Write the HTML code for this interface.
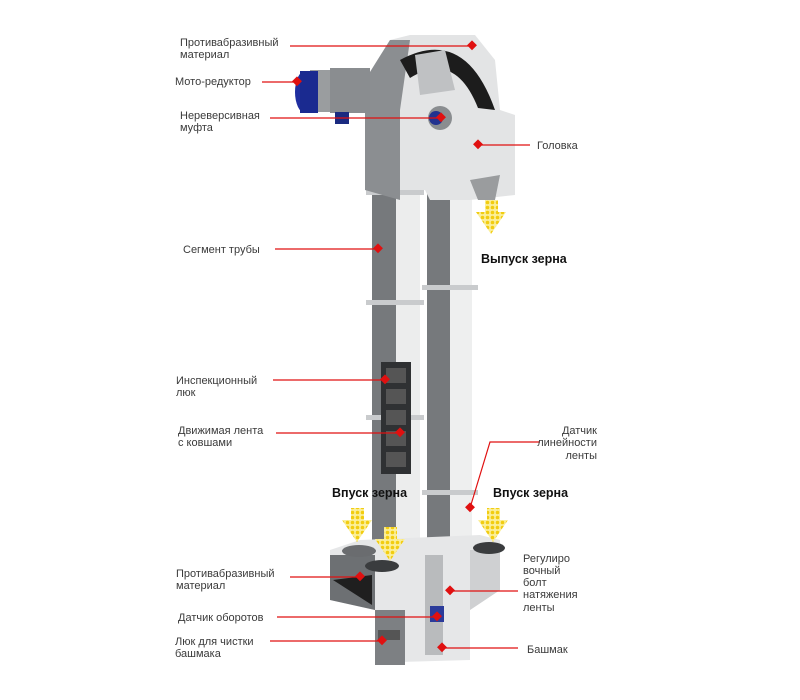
<!DOCTYPE html>
<html><head><meta charset="utf-8"><style>
html,body{margin:0;padding:0;background:#fff;}
svg{display:block}
text{font-family:"Liberation Sans",sans-serif;font-size:11px;fill:#3a3a3a}
.b{font-weight:bold;font-size:12.5px;fill:#111}
</style></head><body>
<svg width="800" height="700" viewBox="0 0 800 700" xmlns="http://www.w3.org/2000/svg">
<defs>
<pattern id="g" width="5" height="5" patternUnits="userSpaceOnUse"><rect width="5" height="5" fill="#fbef9a"/><circle cx="2.5" cy="2.5" r="1.8" fill="#f2cc10"/></pattern>
</defs>
<!-- Tubes -->
<rect x="372" y="185" width="24" height="360" fill="#76797c"/>
<rect x="396" y="185" width="24" height="360" fill="#eceded"/>
<rect x="427" y="180" width="23" height="360" fill="#76797c"/>
<rect x="450" y="180" width="22" height="360" fill="#eeefef"/>
<g fill="#c9cbcd">
<rect x="366" y="190" width="58" height="5"/><rect x="366" y="300" width="58" height="5"/><rect x="366" y="415" width="58" height="5"/>
<rect x="422" y="285" width="56" height="5"/><rect x="422" y="490" width="56" height="5"/><rect x="366" y="545" width="58" height="5"/>
</g>
<rect x="381" y="362" width="30" height="112" fill="#2f3133"/>
<g fill="#555">
<rect x="386" y="368" width="20" height="15"/><rect x="386" y="389" width="20" height="15"/><rect x="386" y="410" width="20" height="15"/><rect x="386" y="431" width="20" height="15"/><rect x="386" y="452" width="20" height="15"/>
</g>
<!-- Head -->
<polygon points="365,190 365,80 390,40 410,35 475,35 495,60 500,110 515,115 515,195 470,200 430,200 425,190" fill="#e3e4e5"/>
<polygon points="365,190 365,80 390,40 410,40 400,110 400,200" fill="#8b8e91"/>
<path d="M400,60 Q465,25 495,110 L478,108 Q455,50 410,78 Z" fill="#1c1c1c"/>
<polygon points="415,55 445,50 455,90 420,95" fill="#bfc1c3"/>
<circle cx="440" cy="118" r="12" fill="#8a8d90"/><circle cx="436" cy="118" r="7" fill="#22328f"/>
<polygon points="470,180 500,175 495,200 478,200" fill="#9a9c9e"/>
<!-- Motor -->
<rect x="310" y="70" width="60" height="42" fill="#9a9d9f"/>
<rect x="330" y="68" width="40" height="45" fill="#8a8d90"/>
<ellipse cx="305" cy="92" rx="10" ry="21" fill="#1f2ea0"/>
<rect x="300" y="71" width="18" height="42" fill="#1a2a90"/>
<rect x="335" y="112" width="14" height="12" fill="#1a2a80"/>
<!-- Boot -->
<polygon points="330,550 360,540 480,535 500,540 500,590 470,610 470,660 400,662 385,665 375,665 375,610 330,600" fill="#e6e7e8"/>
<polygon points="330,555 375,555 375,610 330,600" fill="#6d7073"/>
<polygon points="333,580 372,575 372,605" fill="#1f1f1f"/>
<polygon points="375,610 405,610 405,665 375,665" fill="#7d8083"/>
<rect x="378" y="630" width="22" height="10" fill="#555"/>
<polygon points="470,550 500,550 500,590 470,610" fill="#cfd0d2"/>
<rect x="425" y="555" width="18" height="100" fill="#b9bbbd"/>
<rect x="430" y="606" width="14" height="16" fill="#2b3b9a"/>
<ellipse cx="359" cy="551" rx="17" ry="6" fill="#6a6c6f"/>
<ellipse cx="382" cy="566" rx="17" ry="6" fill="#3a3c3e"/>
<ellipse cx="489" cy="548" rx="16" ry="6" fill="#3a3c3e"/>
<!-- grain arrows -->
<polygon points="485,200 498,200 498,212 506,212 491,234 476,212 485,212" fill="url(#g)"/>
<polygon points="351,508 364,508 364,520 372,520 357,542 342,520 351,520" fill="url(#g)"/>
<polygon points="384,527 397,527 397,539 405,539 390,561 375,539 384,539" fill="url(#g)"/>
<polygon points="487,508 500,508 500,520 508,520 493,542 478,520 487,520" fill="url(#g)"/>
<!-- Leaders -->
<g stroke="#e01010" stroke-width="1.2" fill="none">
<line x1="290" y1="46" x2="472" y2="46"/>
<line x1="262" y1="82" x2="297" y2="82"/>
<line x1="270" y1="118" x2="441" y2="118"/>
<line x1="478" y1="145" x2="530" y2="145"/>
<line x1="275" y1="249" x2="378" y2="249"/>
<line x1="273" y1="380" x2="385" y2="380"/>
<line x1="276" y1="433" x2="400" y2="433"/>
<polyline points="540,442 490,442 470,508"/>
<line x1="290" y1="577" x2="360" y2="577"/>
<line x1="450" y1="591" x2="518" y2="591"/>
<line x1="277" y1="617" x2="437" y2="617"/>
<line x1="270" y1="641" x2="382" y2="641"/>
<line x1="442" y1="648" x2="518" y2="648"/>
</g>
<g fill="#e01010">
<rect x="468" y="42" width="7" height="7" transform="rotate(45 472 46)"/>
<rect x="293" y="78" width="7" height="7" transform="rotate(45 297 82)"/>
<rect x="437" y="114" width="7" height="7" transform="rotate(45 441 118)"/>
<rect x="474" y="141" width="7" height="7" transform="rotate(45 478 145)"/>
<rect x="374" y="245" width="7" height="7" transform="rotate(45 378 249)"/>
<rect x="381" y="376" width="7" height="7" transform="rotate(45 385 380)"/>
<rect x="396" y="429" width="7" height="7" transform="rotate(45 400 433)"/>
<rect x="466" y="504" width="7" height="7" transform="rotate(45 470 508)"/>
<rect x="356" y="573" width="7" height="7" transform="rotate(45 360 577)"/>
<rect x="446" y="587" width="7" height="7" transform="rotate(45 450 591)"/>
<rect x="433" y="613" width="7" height="7" transform="rotate(45 437 617)"/>
<rect x="378" y="637" width="7" height="7" transform="rotate(45 382 641)"/>
<rect x="438" y="644" width="7" height="7" transform="rotate(45 442 648)"/>
</g>
<text x="180" y="46">Противабразивный</text><text x="180" y="58">материал</text>
<text x="175" y="85">Мото-редуктор</text>
<text x="180" y="119">Нереверсивная</text><text x="180" y="131">муфта</text>
<text x="537" y="149">Головка</text>
<text x="183" y="253">Сегмент трубы</text>
<text class="b" x="481" y="263">Выпуск зерна</text>
<text x="176" y="384">Инспекционный</text><text x="176" y="396">люк</text>
<text x="178" y="434">Движимая лента</text><text x="178" y="446">с ковшами</text>
<text x="597" y="434" text-anchor="end">Датчик</text><text x="597" y="446" text-anchor="end">линейности</text><text x="597" y="459" text-anchor="end">ленты</text>
<text class="b" x="332" y="497">Впуск зерна</text>
<text class="b" x="493" y="497">Впуск зерна</text>
<text x="176" y="577">Противабразивный</text><text x="176" y="589">материал</text>
<text x="523" y="562">Регулиро</text><text x="523" y="574">вочный</text><text x="523" y="586">болт</text><text x="523" y="598">натяжения</text><text x="523" y="611">ленты</text>
<text x="178" y="621">Датчик оборотов</text>
<text x="175" y="645">Люк для чистки</text><text x="175" y="657">башмака</text>
<text x="527" y="653">Башмак</text>
</svg>
</body></html>
